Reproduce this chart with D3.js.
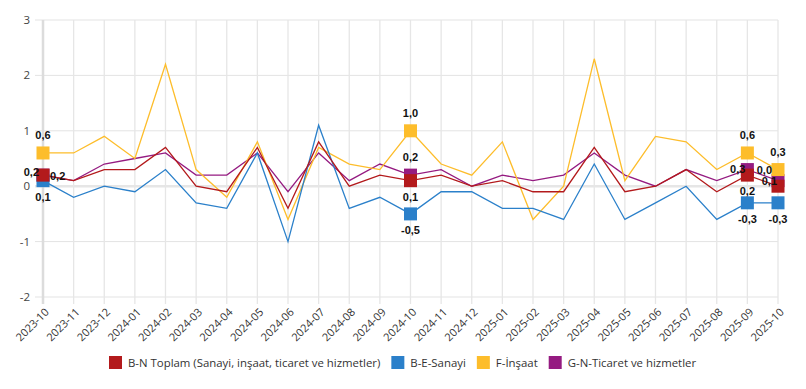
<!DOCTYPE html>
<html>
<head>
<meta charset="utf-8">
<script src="https://cdn.jsdelivr.net/npm/d3@7"></script>
<style>
  body { margin: 0; background: #fff; }
  svg { display: block; font-family: "Open Sans", sans-serif; }
</style>
</head>
<body>
<div id="chart"></div>
<script>
// months on the x axis
var months = ["2023-10","2023-11","2023-12","2024-01","2024-02","2024-03","2024-04","2024-05",
  "2024-06","2024-07","2024-08","2024-09","2024-10","2024-11","2024-12","2025-01","2025-02",
  "2025-03","2025-04","2025-05","2025-06","2025-07","2025-08","2025-09","2025-10"];

var seriesNames = ["B-N Toplam (Sanayi, inşaat, ticaret ve hizmetler)", "B-E-Sanayi", "F-İnşaat", "G-N-Ticaret ve hizmetler"];
var seriesColors = ["#b31a1c", "#2b80ca", "#fdbd2b", "#951b81"];

var toplam   = [0.2, 0.1, 0.3, 0.3, 0.7, 0.0, -0.1, 0.7, -0.4, 0.8, 0.0, 0.2, 0.1, 0.2, 0.0, 0.1, -0.1, -0.1, 0.7, -0.1, 0.0, 0.3, -0.1, 0.2, 0.0];
var sanayi   = [0.1, -0.2, 0.0, -0.1, 0.3, -0.3, -0.4, 0.6, -1.0, 1.1, -0.4, -0.2, -0.5, -0.1, -0.1, -0.4, -0.4, -0.6, 0.4, -0.6, -0.3, 0.0, -0.6, -0.3, -0.3];
var insaat   = [0.6, 0.6, 0.9, 0.5, 2.2, 0.3, -0.2, 0.8, -0.6, 0.7, 0.4, 0.3, 1.0, 0.4, 0.2, 0.8, -0.6, 0.0, 2.3, 0.1, 0.9, 0.8, 0.3, 0.6, 0.3];
var ticaret  = [0.2, 0.1, 0.4, 0.5, 0.6, 0.2, 0.2, 0.6, -0.1, 0.6, 0.1, 0.4, 0.2, 0.3, 0.0, 0.2, 0.1, 0.2, 0.6, 0.2, 0.0, 0.3, 0.1, 0.3, 0.1];

var yTicks = [-2, -1, 0, 1, 2, 3];
var markedMonths = ["2023-10", "2024-10", "2025-09", "2025-10"];

// where each value label sits relative to its marker: [anchor, dx, dy]
var labelPlace = {
  "0|2023-10": ["end", -4, 1],   "3|2023-10": ["start", 7, 5],
  "1|2023-10": ["middle", 0, 20], "2|2023-10": ["middle", 0, -14],
  "0|2024-10": ["middle", 0, 20], "1|2024-10": ["middle", 0, 20],
  "2|2024-10": ["middle", 0, -14], "3|2024-10": ["middle", 0, -14],
  "0|2025-09": ["middle", 0, 20], "1|2025-09": ["middle", 0, 20],
  "2|2025-09": ["middle", 0, -14], "3|2025-09": ["end", -2, 3],
  "0|2025-10": ["end", -6, -12], "1|2025-10": ["middle", 0, 20],
  "2|2025-10": ["middle", 0, -14], "3|2025-10": ["end", -1, 4]
};

var allValues = [toplam, sanayi, insaat, ticaret];
var series = seriesNames.map(function(n, i) {
  return { name: n, color: seriesColors[i], idx: i, values: allValues[i] };
});

var W = 806, H = 389;
var svg = d3.select("#chart").append("svg").attr("width", W).attr("height", H);

var x = d3.scalePoint().domain(months).range([43, 778]);
var y = d3.scaleLinear().domain([-2, 3]).range([297, 20]);

// horizontal grid
svg.append("g").selectAll("line").data(yTicks).join("line")
  .attr("x1", 35).attr("x2", 778)
  .attr("y1", function(d) { return y(d); }).attr("y2", function(d) { return y(d); })
  .attr("stroke", function(d) { return d === 0 ? "#e6e6e6" : "#e3e3e3"; })
  .attr("stroke-width", function(d) { return d === 0 ? 2.5 : 1; });

// vertical grid
svg.append("g").selectAll("line").data(months).join("line")
  .attr("x1", function(d) { return x(d); }).attr("x2", function(d) { return x(d); })
  .attr("y1", 20).attr("y2", 304)
  .attr("stroke", function(d, i) { return i === 0 ? "#dcdcdc" : "#e6e6e6"; })
  .attr("stroke-width", function(d, i) { return i === 0 ? 2.5 : 1.3; });

// y labels
svg.append("g").selectAll("text").data(yTicks).join("text")
  .attr("x", 30).attr("y", function(d) { return y(d) + 4; })
  .attr("text-anchor", "end").attr("font-size", 11.5).attr("fill", "#444")
  .text(function(d) { return d; });

// x labels
svg.append("g").selectAll("text").data(months).join("text")
  .attr("text-anchor", "end").attr("font-size", 11).attr("fill", "#333")
  .attr("transform", function(d) { return "translate(" + (x(d) + 4) + ",310) rotate(-45)"; })
  .attr("dy", "0.35em")
  .text(function(d) { return d; });

var line = d3.line()
  .x(function(d, i) { return x(months[i]); })
  .y(function(d) { return y(d); });

var order = series.slice().reverse();

svg.append("g").selectAll("path").data(order).join("path")
  .attr("d", function(s) { return line(s.values); })
  .attr("fill", "none")
  .attr("stroke", function(s) { return s.color; })
  .attr("stroke-width", 1.3);

// square markers
var marks = [];
order.forEach(function(s) {
  markedMonths.forEach(function(m) {
    var i = months.indexOf(m);
    marks.push({ s: s, m: m, v: s.values[i] });
  });
});

svg.append("g").selectAll("rect").data(marks).join("rect")
  .attr("x", function(d) { return x(d.m) - 6.5; })
  .attr("y", function(d) { return y(d.v) - 6.5; })
  .attr("width", 13).attr("height", 13)
  .attr("fill", function(d) { return d.s.color; });

function fmt(v) {
  return d3.format(".1f")(v).replace(".", ",").replace("−", "-");
}

svg.append("g").selectAll("text").data(marks).join("text")
  .attr("font-family", "'Liberation Sans', Arial, sans-serif")
  .attr("font-weight", "bold").attr("font-size", 11).attr("fill", "#111")
  .each(function(d) {
    var p = labelPlace[d.s.idx + "|" + d.m];
    d3.select(this)
      .attr("text-anchor", p[0])
      .attr("x", x(d.m) + p[1])
      .attr("y", y(d.v) + p[2]);
  })
  .text(function(d) { return fmt(d.v); });

// legend
var legend = svg.append("g");
var lx = 0;
series.forEach(function(s) {
  var g = legend.append("g").attr("transform", "translate(" + lx + ",0)");
  g.append("rect").attr("x", 0).attr("y", 356).attr("width", 13).attr("height", 13).attr("fill", s.color);
  var t = g.append("text").attr("x", 19).attr("y", 367).attr("font-size", 11.4).attr("fill", "#333").text(s.name);
  lx += 19 + t.node().getComputedTextLength() + 11;
});
var lw = lx - 11;
legend.attr("transform", "translate(" + Math.round((W - lw) / 2) + ",0)");
</script>
</body>
</html>
